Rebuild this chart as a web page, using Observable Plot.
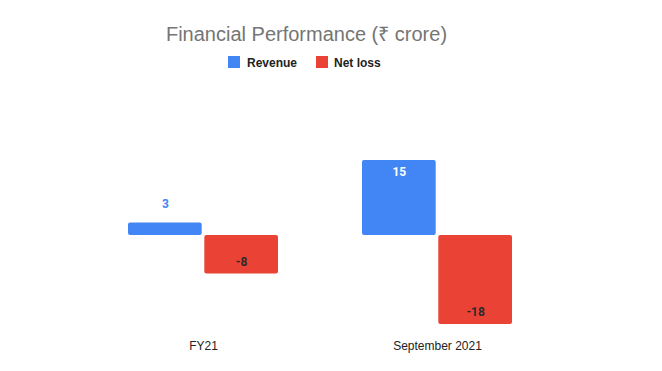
<!DOCTYPE html>
<html>
<head>
<meta charset="utf-8">
<script src="https://cdn.jsdelivr.net/npm/d3@7"></script>
<script src="https://cdn.jsdelivr.net/npm/@observablehq/plot@0.6"></script>
<style>
  html, body { margin: 0; padding: 0; background: #fff; }
  #wrap { position: relative; width: 662px; height: 371px; overflow: hidden; font-family: Arial, "Liberation Sans", sans-serif; }
  #header { position: relative; width: 662px; height: 80px; }
  #title { position: absolute; left: 0; width: 613px; top: 23.5px; text-align: center; font-size: 20px; line-height: 20px; color: #757575; }
  .lg-sw { position: absolute; width: 12px; height: 12px; top: 56px; }
  .lg-tx { position: absolute; top: 56.8px; font-size: 12px; line-height: 12px; font-weight: bold; color: #222; white-space: nowrap; }
</style>
</head>
<body>
<div id="wrap">
  <div id="header">
    <div id="title">Financial Performance (₹ crore)</div>
    <div id="legend"></div>
  </div>
  <div id="chart"></div>
</div>
<script>
const periods = ["FY21", "September 2021"];
const seriesNames = ["Revenue", "Net loss"];
const revenue = [2.5, 15];
const netLoss = [-7.7, -17.8];
const colors = ["#4285F4", "#EA4335"];

const rows = [];
periods.forEach((p, i) => {
  rows.push({period: p, series: seriesNames[0], value: revenue[i]});
  rows.push({period: p, series: seriesNames[1], value: netLoss[i]});
});

// legend
const legend = document.getElementById("legend");
const legendPos = [[228, 247], [316, 334]];
seriesNames.forEach((s, i) => {
  const sw = document.createElement("div");
  sw.className = "lg-sw";
  sw.style.left = legendPos[i][0] + "px";
  sw.style.background = colors[i];
  legend.appendChild(sw);
  const tx = document.createElement("div");
  tx.className = "lg-tx";
  tx.style.left = legendPos[i][1] + "px";
  tx.textContent = s;
  legend.appendChild(tx);
});

const fmt = v => String(Math.round(v));
const labelFont = {fontFamily: "Roboto, sans-serif", fontSize: 12, fontWeight: "bold", lineAnchor: "middle"};

const chart = Plot.plot({
  width: 662,
  height: 291,
  marginLeft: 44,
  marginRight: 66,
  marginTop: 55,
  marginBottom: 36,
  style: {fontFamily: "Arial, 'Liberation Sans', sans-serif", fontSize: "12px", color: "#222", background: "#fff"},
  fx: {domain: periods, paddingInner: 0.359, paddingOuter: 0.359, round: false, axis: null, label: null},
  x: {domain: seriesNames, paddingInner: 0.034, paddingOuter: 0, round: false, axis: null},
  y: {domain: [-20, 20], axis: null},
  color: {domain: seriesNames, range: colors},
  marks: [
    Plot.barY(rows, {fx: "period", x: "series", y: "value", fill: "series", rx: 2}),
    Plot.text(rows.filter(d => d.value > 0 && d.value < 5), {fx: "period", x: "series", y: "value", text: d => fmt(d.value), dy: -19, fill: colors[0], ...labelFont}),
    Plot.text(rows.filter(d => d.value >= 5), {fx: "period", x: "series", y: "value", text: d => fmt(d.value), dy: 12, fill: "#fff", ...labelFont}),
    Plot.text(rows.filter(d => d.value < 0), {fx: "period", x: "series", y: "value", text: d => fmt(d.value), dy: -12, fill: "#2b2b2b", ...labelFont}),
    Plot.axisFx({anchor: "bottom", tickSize: 0, tickPadding: 5.5, fontSize: 12, fill: "#222", label: null})
  ]
});
document.getElementById("chart").appendChild(chart);
</script>
</body>
</html>
